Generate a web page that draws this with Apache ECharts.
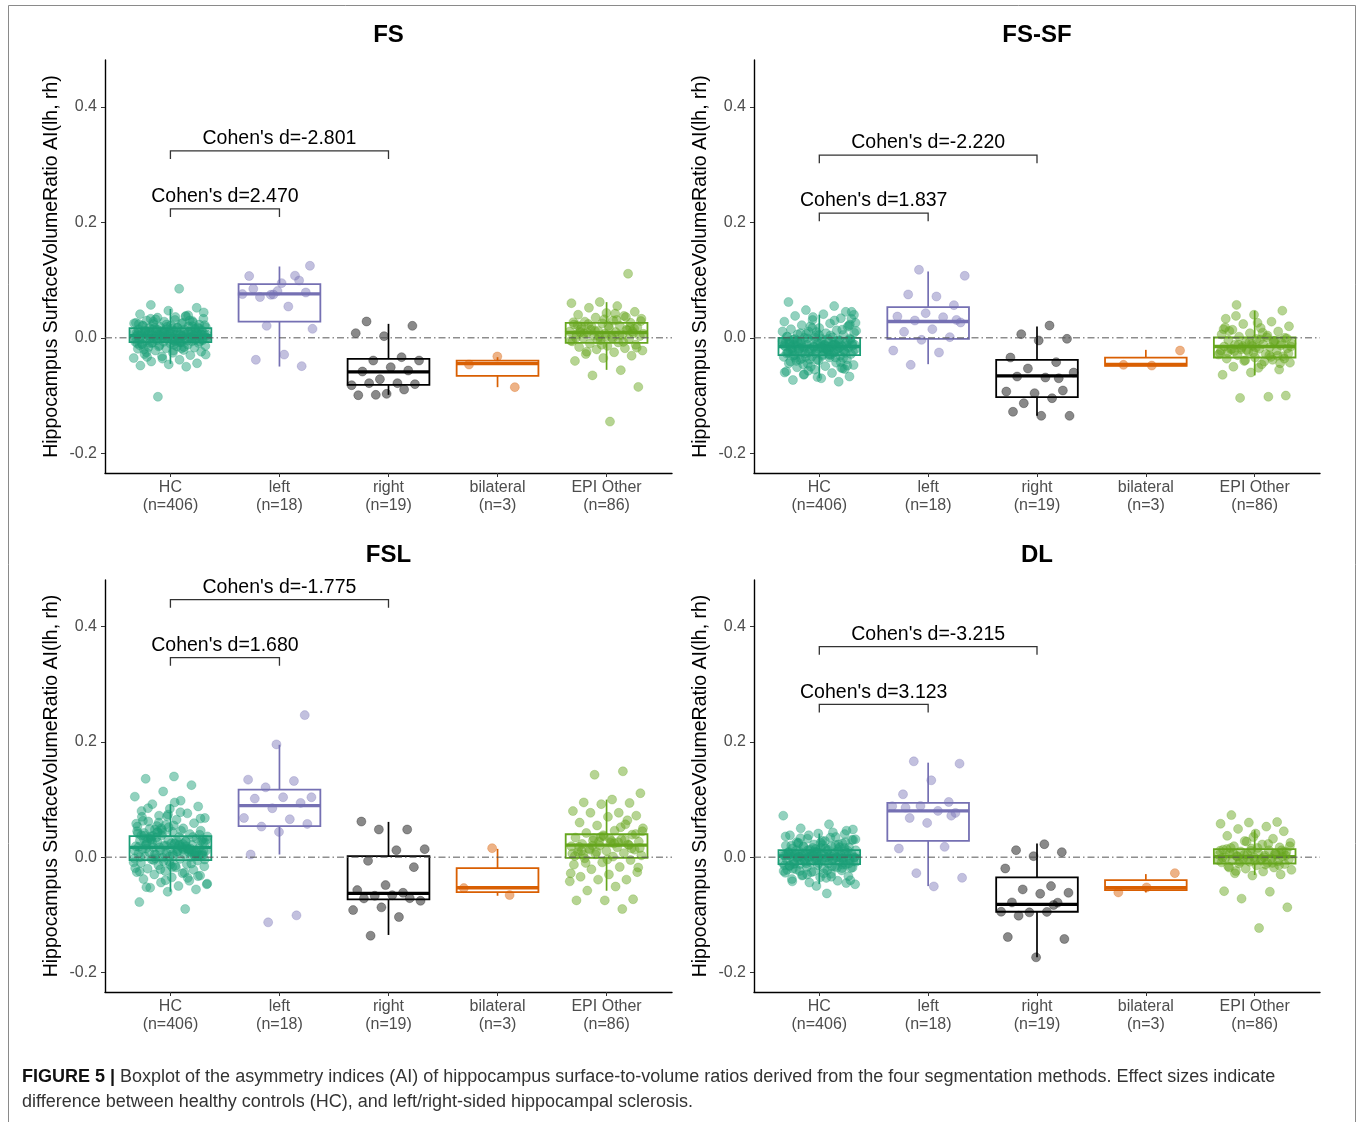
<!DOCTYPE html>
<html><head><meta charset="utf-8">
<script src="https://cdn.jsdelivr.net/npm/echarts@6/dist/echarts.min.js"></script>
<style>html,body{margin:0;padding:0;background:#fff}#c{width:1363px;height:1122px}</style>
</head><body><div id="c"></div><script>
// ---------- data ----------
const GROUPS = ['HC', 'left', 'right', 'bilateral', 'EPI Other'];
const COUNTS = [406, 18, 19, 3, 86];
const Y_TICKS = [-0.2, 0.0, 0.2, 0.4];
const TITLES = ['FS', 'FS-SF', 'FSL', 'DL'];
const Y_NAME = 'Hippocampus SurfaceVolumeRatio AI(lh, rh)';

// box stats [min, Q1, median, Q3, max] per group
const FS_BOX   = [[-0.045,-0.0074,0.004,0.0168,0.050],[-0.0497,0.0282,0.0762,0.093,0.1235],[-0.0987,-0.0814,-0.0589,-0.0364,0.0242],[-0.0854,-0.0658,-0.0445,-0.0393,-0.0335],[-0.0554,-0.0087,0.0092,0.026,0.0618]];
const FSSF_BOX = [[-0.070,-0.030,-0.015,0.000,0.040],[-0.0456,-0.0017,0.0283,0.0531,0.1149],[-0.135,-0.1027,-0.0658,-0.0381,0.0196],[-0.0485,-0.0485,-0.0462,-0.0341,-0.0208],[-0.065,-0.034,-0.015,0.0006,0.047]];
const FSL_BOX  = [[-0.060,-0.0052,0.017,0.0364,0.0918],[0.0046,0.0537,0.0895,0.1172,0.195],[-0.135,-0.0733,-0.0629,0.0017,0.0612],[-0.067,-0.0606,-0.0531,-0.019,0.0144],[-0.0583,-0.0012,0.0208,0.0398,0.0999]];
const DL_BOX   = [[-0.0468,-0.0121,0.002,0.0121,0.041],[-0.0502,0.0283,0.0803,0.0941,0.164],[-0.1738,-0.0947,-0.082,-0.0352,0.0237],[-0.0612,-0.0572,-0.0531,-0.0398,-0.0294],[-0.031,-0.011,0.001,0.0139,0.0468]];

// points
const FS_HC = [0.085,0.057,0.052,0.047,0.041,0.038,0.035,0.033,0.031,0.030,0.029,0.028,0.026,0.025,0.024,0.023,0.022,0.021,0.020,0.019,0.018,0.017,0.017,0.016,0.015,0.015,0.014,0.013,0.013,0.012,0.011,0.011,0.010,0.010,0.009,0.009,0.008,0.008,0.007,0.007,0.006,0.006,0.005,0.005,0.004,0.004,0.004,0.003,0.003,0.002,0.002,0.001,0.001,0.000,0.000,-0.001,-0.001,-0.002,-0.002,-0.003,-0.003,-0.004,-0.004,-0.005,-0.005,-0.006,-0.007,-0.007,-0.008,-0.008,-0.009,-0.010,-0.011,-0.012,-0.013,-0.014,-0.015,-0.016,-0.017,-0.018,-0.019,-0.021,-0.022,-0.024,-0.026,-0.028,-0.030,-0.032,-0.035,-0.038,-0.041,-0.044,-0.046,-0.048,-0.050,-0.102,0.044,0.036,-0.033,0.027,
  0.012,0.008,0.003,-0.001,-0.006,0.016,0.021,0.010,0.005,0.000,-0.004,-0.009,0.014,0.019,0.024,0.007,0.002,-0.003,-0.012,0.011,0.006,0.001,-0.002,-0.007,0.015,0.018,0.009,0.004,-0.005,-0.015,0.022,0.013,0.008,0.003,-0.001,-0.010,0.026,0.017,0.006,-0.003,-0.020,0.030,0.012,0.005,-0.008,0.033,0.010,0.002,-0.013,0.037,0.014,0.004,-0.006,-0.025,0.020,0.009,0.001,-0.018,0.028,0.016,0.007,-0.011,0.039,0.003,-0.029,0.018,0.011,-0.004,0.023,0.008,-0.016,0.032,0.006,-0.022,0.013,0.000,-0.036,0.025,0.005,-0.009];
const FS_LEFT = [0.1247,0.0947,0.0849,0.0993,0.0745,0.0757,0.0542,0.0705,0.0785,0.0809,0.1070,0.1076,0.0208,0.0156,-0.0290,-0.0380,-0.0490,0.0750];
const FS_RIGHT = [0.0283,0.0208,0.0029,0.0081,-0.0335,-0.0393,-0.0393,-0.0508,-0.0583,-0.0566,-0.0716,-0.0820,-0.0785,-0.0785,-0.0802,-0.0970,-0.0993,-0.0895,-0.0987];
const FS_BI = [-0.0323,-0.0462,-0.0854];
const FS_EPI = [0.111,0.062,0.060,0.055,0.052,0.045,0.043,0.040,0.038,0.035,0.033,0.030,0.028,0.026,0.025,0.023,0.021,0.020,0.018,0.017,0.015,0.014,0.012,0.011,0.010,0.009,0.008,0.007,0.006,0.005,0.004,0.003,0.001,0.000,-0.002,-0.004,-0.006,-0.008,-0.010,-0.012,-0.014,-0.016,-0.018,-0.020,-0.022,-0.025,-0.028,-0.031,-0.035,-0.040,-0.056,-0.065,-0.085,-0.145,0.019,0.013,0.003,-0.005,0.031,0.024,
  0.016,0.002,0.022,-0.007,0.012,0.029,-0.001,0.008,0.018,-0.012,0.027,0.005,0.014,-0.017,0.021,0.010,0.036,-0.003,0.007,0.042,-0.024,0.011,0.032,0.000];

const FSSF_HC = [0.062,0.055,0.048,0.045,0.041,0.038,0.034,0.031,0.028,0.025,0.022,0.019,0.017,0.015,0.013,0.011,0.009,0.008,0.006,0.005,0.003,0.002,0.001,0.000,-0.001,-0.002,-0.003,-0.004,-0.005,-0.006,-0.007,-0.008,-0.009,-0.010,-0.011,-0.011,-0.012,-0.013,-0.013,-0.014,-0.014,-0.015,-0.015,-0.016,-0.016,-0.017,-0.017,-0.018,-0.019,-0.019,-0.020,-0.021,-0.022,-0.023,-0.024,-0.025,-0.026,-0.027,-0.028,-0.029,-0.030,-0.031,-0.032,-0.033,-0.034,-0.036,-0.037,-0.039,-0.041,-0.043,-0.045,-0.047,-0.049,-0.051,-0.053,-0.055,-0.058,-0.061,-0.064,-0.067,-0.070,-0.073,-0.076,0.020,0.012,-0.002,-0.018,-0.026,-0.038,-0.044,0.030,0.007,-0.009,-0.021,-0.035,-0.052,0.036,-0.060,0.004,-0.025,
  -0.005,-0.010,-0.015,-0.020,-0.025,-0.012,-0.018,-0.008,-0.022,-0.027,0.002,-0.013,-0.017,-0.003,-0.031,-0.011,-0.016,-0.021,-0.006,-0.028,0.008,-0.014,-0.019,-0.009,-0.034,-0.001,-0.024,-0.012,-0.040,0.014,-0.016,-0.007,-0.029,-0.046,0.021,-0.010,-0.023,-0.004,-0.037,0.026,-0.015,-0.020,-0.054,0.010,-0.026,-0.011,-0.033,0.033,-0.018,-0.002,-0.042,0.017,-0.013,-0.030,-0.008,-0.048,0.005,-0.022,-0.014,-0.057,0.040,-0.019,-0.005,-0.035,0.000,-0.027,-0.012,-0.063,0.023,-0.016,-0.031,-0.009,-0.050,0.011,-0.021,-0.038,0.045,-0.068,-0.006,-0.024];
const FSSF_LEFT = [0.1178,0.1074,0.0716,0.0751,0.0566,0.0427,0.0369,0.0358,0.0300,0.0266,0.0150,0.0104,0.0012,-0.0035,-0.0220,-0.0254,-0.0468,0.0310];
const FSSF_RIGHT = [0.0213,0.0064,-0.0017,-0.0046,-0.0341,-0.0421,-0.0531,-0.0601,-0.0687,-0.0670,-0.0912,-0.0958,-0.0930,-0.1045,-0.1132,-0.1350,-0.1350,-0.1280,-0.0700];
const FSSF_BI = [-0.0220,-0.0480,-0.0468];
const FSSF_EPI = [0.057,0.047,0.040,0.033,0.028,0.024,0.020,0.017,0.014,0.011,0.008,0.006,0.004,0.002,0.000,-0.002,-0.004,-0.006,-0.008,-0.010,-0.011,-0.012,-0.013,-0.014,-0.015,-0.016,-0.017,-0.018,-0.019,-0.020,-0.022,-0.024,-0.026,-0.028,-0.030,-0.032,-0.034,-0.036,-0.038,-0.040,-0.043,-0.046,-0.050,-0.055,-0.060,-0.064,-0.102,-0.104,-0.100,0.026,0.012,-0.005,-0.021,-0.029,-0.041,0.038,-0.009,-0.025,0.018,-0.033,
  -0.014,-0.027,-0.003,-0.019,-0.031,-0.008,-0.022,0.001,-0.012,-0.036,-0.017,-0.025,-0.006,-0.039,-0.015,0.009,-0.023,-0.044,-0.010,0.015,-0.030,-0.020,-0.001,-0.052];

const FSL_HC = [0.140,0.136,0.125,0.114,0.105,0.098,0.092,0.088,0.084,0.080,0.076,0.072,0.068,0.065,0.062,0.059,0.056,0.053,0.050,0.048,0.046,0.044,0.042,0.040,0.038,0.036,0.035,0.033,0.032,0.030,0.029,0.027,0.026,0.025,0.024,0.022,0.021,0.020,0.019,0.018,0.017,0.016,0.015,0.014,0.013,0.012,0.011,0.010,0.009,0.008,0.007,0.006,0.005,0.004,0.003,0.002,0.001,0.000,-0.001,-0.002,-0.003,-0.004,-0.006,-0.008,-0.010,-0.012,-0.014,-0.016,-0.018,-0.020,-0.022,-0.024,-0.026,-0.028,-0.030,-0.032,-0.035,-0.038,-0.041,-0.044,-0.047,-0.050,-0.053,-0.056,-0.060,-0.078,-0.090,0.054,0.031,0.023,0.015,0.009,-0.007,-0.019,0.046,0.037,0.003,-0.013,0.070,-0.036,
  0.017,0.025,0.010,0.033,0.003,0.020,0.041,0.013,-0.002,0.028,0.006,0.037,0.015,0.047,-0.009,0.022,0.031,0.008,0.052,0.000,0.019,0.044,0.011,-0.015,0.027,0.035,0.004,0.058,0.016,-0.005,0.039,0.024,0.063,0.009,-0.021,0.030,0.014,0.049,0.002,0.071,0.018,-0.027,0.034,0.007,0.055,0.021,-0.011,0.042,0.012,0.078,0.026,-0.033,0.001,0.038,0.015,0.060,-0.004,0.029,0.085,0.010,-0.040,0.045,0.023,0.005,0.067,-0.017,0.032,0.013,0.050,-0.046,0.020,0.036,0.008,0.074,-0.025,0.027,0.043,0.003,0.095,-0.052];
const FSL_LEFT = [0.2465,0.1957,0.1345,0.1322,0.1212,0.1040,0.1040,0.1016,0.0941,0.0849,0.0680,0.0658,0.0531,0.0577,0.0438,0.0046,-0.1010,-0.1131];
const FSL_RIGHT = [0.0618,0.0480,0.0480,0.0139,0.0121,-0.0064,-0.0173,-0.0485,-0.0572,-0.0618,-0.0670,-0.0757,-0.0660,-0.0716,-0.0712,-0.0871,-0.0918,-0.1039,-0.1363];
const FSL_BI = [0.0156,-0.0537,-0.0658];
const FSL_EPI = [0.149,0.143,0.111,0.100,0.095,0.094,0.092,0.080,0.077,0.077,0.072,0.070,0.060,0.057,0.055,0.050,0.046,0.042,0.039,0.036,0.034,0.031,0.029,0.027,0.025,0.023,0.022,0.020,0.019,0.017,0.015,0.013,0.011,0.009,0.007,0.005,0.003,0.001,-0.002,-0.005,-0.009,-0.013,-0.017,-0.021,-0.026,-0.030,-0.034,-0.039,-0.039,-0.042,-0.051,-0.058,-0.073,-0.075,-0.075,-0.090,0.033,0.016,0.028,0.004,
  0.021,0.035,0.006,0.026,0.013,0.040,-0.004,0.018,0.030,0.009,0.045,0.024,-0.010,0.015,0.038,0.002,0.052,0.020,-0.018,0.032,0.011,0.064,0.027,-0.028];

const DL_HC = [0.072,0.057,0.050,0.046,0.041,0.038,0.035,0.032,0.030,0.028,0.026,0.024,0.022,0.020,0.019,0.018,0.017,0.016,0.015,0.014,0.013,0.012,0.011,0.010,0.010,0.009,0.008,0.007,0.007,0.006,0.005,0.005,0.004,0.004,0.003,0.003,0.002,0.002,0.001,0.001,0.000,0.000,-0.001,-0.001,-0.002,-0.002,-0.003,-0.004,-0.004,-0.005,-0.006,-0.006,-0.007,-0.008,-0.009,-0.010,-0.011,-0.012,-0.013,-0.014,-0.015,-0.016,-0.017,-0.018,-0.020,-0.021,-0.023,-0.025,-0.027,-0.029,-0.031,-0.033,-0.035,-0.038,-0.041,-0.044,-0.047,-0.063,0.025,0.016,0.008,0.003,-0.003,-0.008,-0.019,0.021,-0.011,0.000,0.006,-0.024,
  0.002,-0.004,0.008,-0.010,0.005,-0.001,0.012,-0.007,0.015,0.000,-0.013,0.010,0.004,-0.016,0.018,-0.003,0.007,-0.020,0.022,0.001,-0.008,0.013,-0.024,0.026,-0.005,0.009,0.003,-0.011,0.030,-0.028,0.006,-0.002,0.016,-0.014,0.034,-0.032,0.011,-0.006,0.020,-0.018,0.038,0.000,-0.036,0.024,-0.009,0.014,-0.022,0.043,0.005,-0.040,0.028,-0.012,0.017,-0.026,0.004,-0.002,0.033,-0.045,0.008,-0.015,0.021,-0.030,0.048,-0.007,0.012,-0.019,0.002,0.036,-0.034,0.006,-0.011,0.025,-0.042,0.010,-0.004,0.031,-0.023,0.001,0.040,-0.050];
const DL_LEFT = [0.1663,0.1623,0.1334,0.1091,0.0958,0.0889,0.0884,0.0803,0.0680,0.0768,0.0594,0.0150,0.0179,-0.0277,-0.0358,-0.0508,0.0860,0.0720];
const DL_RIGHT = [0.0225,0.0121,0.0087,0.0017,-0.0196,-0.0502,-0.0560,-0.0618,-0.0635,-0.0785,-0.0790,-0.0958,-0.0947,-0.0950,-0.1016,-0.1420,-0.1738,-0.1386,-0.0830];
const DL_BI = [-0.0277,-0.0525,-0.0612];
const DL_EPI = [0.073,0.061,0.060,0.058,0.053,0.049,0.045,0.041,0.037,0.032,0.028,0.025,0.022,0.019,0.017,0.015,0.013,0.012,0.010,0.009,0.008,0.007,0.006,0.005,0.004,0.003,0.002,0.001,0.000,-0.001,-0.002,-0.003,-0.004,-0.005,-0.006,-0.007,-0.008,-0.009,-0.010,-0.011,-0.012,-0.014,-0.016,-0.018,-0.020,-0.022,-0.025,-0.028,-0.030,-0.032,-0.059,-0.060,-0.072,-0.087,-0.123,0.016,0.004,-0.003,0.011,-0.013,
  0.001,0.009,-0.006,0.014,-0.010,0.004,0.019,-0.003,0.007,-0.014,0.011,-0.001,0.023,-0.008,0.003,0.016,-0.018,0.006,0.027,-0.005,0.000,-0.024,0.012,0.035];

// effect-size brackets: [fromGroup, toGroup, level]
const FS_BRACKETS   = [[1,3,0.3238],[1,2,0.2234]];
const FS_LABELS     = ["Cohen's d=-2.801","Cohen's d=2.470"];
const FSSF_BRACKETS = [[1,3,0.3164],[1,2,0.2160]];
const FSSF_LABELS   = ["Cohen's d=-2.220","Cohen's d=1.837"];
const FSL_BRACKETS  = [[1,3,0.4468],[1,2,0.3463]];
const FSL_LABELS    = ["Cohen's d=-1.775","Cohen's d=1.680"];
const DL_BRACKETS   = [[1,3,0.3654],[1,2,0.2650]];
const DL_LABELS     = ["Cohen's d=-3.215","Cohen's d=3.123"];

const CAPTION_BOLD = 'FIGURE 5 |';
const CAPTION_1 = ' Boxplot of the asymmetry indices (AI) of hippocampus surface-to-volume ratios derived from the four segmentation methods. Effect sizes indicate';
const CAPTION_2 = 'difference between healthy controls (HC), and left/right-sided hippocampal sclerosis.';

// ---------- styling / layout ----------
const COLORS = ['#1b9e77', '#7570b3', '#000000', '#d95f02', '#66a61e'];
const PT_ALPHA = [0.6, 0.55, 0.58, 0.6, 0.6];
const FONT = 'Liberation Sans, Arial, Helvetica, sans-serif';
const panels = [
  {box: FS_BOX, pts: [FS_HC, FS_LEFT, FS_RIGHT, FS_BI, FS_EPI], br: FS_BRACKETS, lab: FS_LABELS, left: 105, top: 60, w: 567, h: 413},
  {box: FSSF_BOX, pts: [FSSF_HC, FSSF_LEFT, FSSF_RIGHT, FSSF_BI, FSSF_EPI], br: FSSF_BRACKETS, lab: FSSF_LABELS, left: 754, top: 60, w: 566, h: 413},
  {box: FSL_BOX, pts: [FSL_HC, FSL_LEFT, FSL_RIGHT, FSL_BI, FSL_EPI], br: FSL_BRACKETS, lab: FSL_LABELS, left: 105, top: 580, w: 567, h: 412},
  {box: DL_BOX, pts: [DL_HC, DL_LEFT, DL_RIGHT, DL_BI, DL_EPI], br: DL_BRACKETS, lab: DL_LABELS, left: 754, top: 580, w: 566, h: 412}
];

function hexA(hex, a) {
  const n = parseInt(hex.slice(1), 16);
  return 'rgba(' + (n >> 16 & 255) + ',' + (n >> 8 & 255) + ',' + (n & 255) + ',' + a + ')';
}
// deterministic horizontal jitter (position only)
function jitter(i, g) {
  const f = ((i + 1) * 0.6180339887 + g * 0.293) % 1;
  return (f - 0.5) * 0.68;
}

const grids = [], xAxes = [], yAxes = [], series = [], graphics = [];
panels.forEach((p, k) => {
  grids.push({left: p.left, top: p.top, width: p.w, height: p.h, containLabel: false});
  graphics.push({type: 'text', x: p.left + p.w / 2, y: p.top - 25, silent: true,
    style: {text: TITLES[k], fontFamily: FONT, fontSize: 24, fontWeight: 'bold', fill: '#000', align: 'center', verticalAlign: 'middle'}});
  xAxes.push({
    gridIndex: k, type: 'value', min: 0.4, max: 5.6,
    axisLine: {show: true, onZero: false, lineStyle: {color: '#000', width: 1.4}},
    axisTick: {show: true, customValues: [1, 2, 3, 4, 5], length: 4, lineStyle: {color: '#333', width: 1}},
    axisLabel: {customValues: [1, 2, 3, 4, 5], margin: 6, fontFamily: FONT, fontSize: 16, lineHeight: 18, color: '#4d4d4d',
      formatter: v => { const g = Math.round(v) - 1; return GROUPS[g] + '\n(n=' + COUNTS[g] + ')'; }},
    splitLine: {show: false}
  });
  yAxes.push({
    gridIndex: k, type: 'value', min: -0.234, max: 0.481,
    axisLine: {show: true, onZero: false, lineStyle: {color: '#000', width: 1.4}},
    axisTick: {show: true, customValues: Y_TICKS, length: 4, lineStyle: {color: '#333', width: 1}},
    axisLabel: {customValues: Y_TICKS, margin: 8, fontFamily: FONT, fontSize: 16, color: '#4d4d4d',
      formatter: v => v.toFixed(1)},
    splitLine: {show: false},
    name: Y_NAME, nameLocation: 'middle', nameGap: 43, nameRotate: 90,
    nameTextStyle: {fontFamily: FONT, fontSize: 19.5, color: '#000'}
  });
  // boxes
  series.push({
    type: 'custom', xAxisIndex: k, yAxisIndex: k, z: 1, silent: true,
    data: p.box.map((b, g) => [g + 1, b[0], b[1], b[2], b[3], b[4]]),
    encode: {x: 0, y: [1, 5]},
    renderItem: (params, api) => {
      const x = api.value(0), mn = api.value(1), q1 = api.value(2), md = api.value(3), q3 = api.value(4), mx = api.value(5);
      const c = COLORS[x - 1], hw = 0.375;
      const tl = api.coord([x - hw, q3]), br = api.coord([x + hw, q1]);
      const cTop = api.coord([x, mx]), cQ3 = api.coord([x, q3]), cQ1 = api.coord([x, q1]), cBot = api.coord([x, mn]);
      const mL = api.coord([x - hw, md]), mR = api.coord([x + hw, md]);
      return {type: 'group', children: [
        {type: 'line', shape: {x1: cTop[0], y1: cTop[1], x2: cQ3[0], y2: cQ3[1]}, style: {stroke: c, lineWidth: 1.7}},
        {type: 'line', shape: {x1: cBot[0], y1: cBot[1], x2: cQ1[0], y2: cQ1[1]}, style: {stroke: c, lineWidth: 1.7}},
        {type: 'rect', shape: {x: tl[0], y: tl[1], width: br[0] - tl[0], height: br[1] - tl[1]}, style: {fill: '#fff', stroke: c, lineWidth: 1.8}},
        {type: 'line', shape: {x1: mL[0], y1: mL[1], x2: mR[0], y2: mR[1]}, style: {stroke: c, lineWidth: 3.3}}
      ]};
    }
  });
  // jittered points
  p.pts.forEach((arr, g) => {
    series.push({
      type: 'scatter', xAxisIndex: k, yAxisIndex: k, z: 2, silent: true,
      symbolSize: 9,
      itemStyle: {color: hexA(COLORS[g], PT_ALPHA[g]), borderColor: hexA(COLORS[g], 0.35), borderWidth: 1},
      data: arr.map((v, i) => [g + 1 + jitter(i, g + k * 5), v])
    });
  });
  // zero reference line
  series.push({
    type: 'line', xAxisIndex: k, yAxisIndex: k, z: 3, silent: true, symbol: 'none',
    data: [[0.4, 0], [5.6, 0]],
    lineStyle: {color: '#555', width: 1, type: [7, 3, 1.5, 3]}
  });
  // brackets
  series.push({
    type: 'custom', xAxisIndex: k, yAxisIndex: k, z: 4, silent: true,
    data: p.br.map((b, j) => [b[0], b[1], b[2], j]),
    encode: {x: [0, 1], y: 2},
    renderItem: (params, api) => {
      const a = api.value(0), b = api.value(1), y = api.value(2), j = api.value(3);
      const drop = 0.014;
      const p1 = api.coord([a, y - drop]), p2 = api.coord([a, y]), p3 = api.coord([b, y]), p4 = api.coord([b, y - drop]);
      return {type: 'group', children: [
        {type: 'polyline', shape: {points: [p1, p2, p3, p4]}, style: {stroke: '#333', lineWidth: 1.3, fill: null}},
        {type: 'text', x: (p2[0] + p3[0]) / 2, y: p2[1] - 2,
          style: {text: p.lab[j], fill: '#000', fontFamily: FONT, fontSize: 19.5, align: 'center', verticalAlign: 'bottom'}}
      ]};
    }
  });
});

graphics.push(
  {type: 'rect', silent: true, shape: {x: 8.5, y: 5.5, width: 1347, height: 1140}, style: {fill: null, stroke: '#8a8a8a', lineWidth: 1}},
  {type: 'text', x: 22, y: 1077, silent: true, style: {text: '{b|' + CAPTION_BOLD + '}' + CAPTION_1,
    rich: {b: {fontWeight: 'bold', fontFamily: FONT, fontSize: 18, fill: '#111'}},
    fontFamily: FONT, fontSize: 18, fill: '#333', verticalAlign: 'middle'}},
  {type: 'text', x: 22, y: 1102, silent: true, style: {text: CAPTION_2, fontFamily: FONT, fontSize: 18, fill: '#333', verticalAlign: 'middle'}}
);

const chart = echarts.init(document.getElementById('c'), null, {renderer: 'canvas'});
chart.setOption({
  animation: false,
  backgroundColor: '#fff',
  grid: grids,
  xAxis: xAxes,
  yAxis: yAxes,
  series: series,
  graphic: graphics
});
</script></body></html>
